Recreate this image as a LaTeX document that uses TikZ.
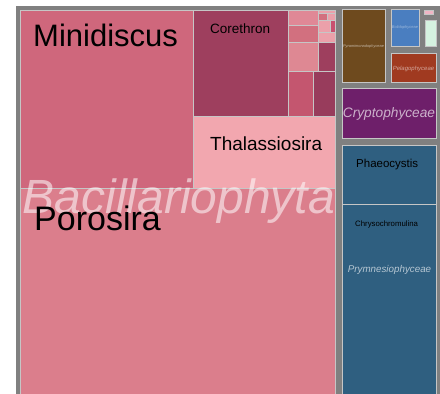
\documentclass[tikz,border=0pt]{standalone}
\usepackage{fontspec}
\setmainfont{Liberation Sans}
\definecolor{frame}{HTML}{808080}
\definecolor{leafline}{HTML}{C6C6C6}
\definecolor{minid}{HTML}{CF677C}
\definecolor{poros}{HTML}{DB7E8C}
\definecolor{coreth}{HTML}{9E3F5E}
\definecolor{thalas}{HTML}{F2A7AF}
\definecolor{pinkA}{HTML}{E08896}
\definecolor{pinkB}{HTML}{D2707F}
\definecolor{pinkC}{HTML}{DE8893}
\definecolor{pinkD}{HTML}{C4566F}
\definecolor{pinkE}{HTML}{983C5C}
\definecolor{pinkF}{HTML}{EBA0AA}
\definecolor{pinkG}{HTML}{C85070}
\definecolor{pyram}{HTML}{6E4A1E}
\definecolor{bolid}{HTML}{4A7EC0}
\definecolor{mint}{HTML}{D5F2E0}
\definecolor{rose}{HTML}{F0B5C5}
\definecolor{pelag}{HTML}{A03A20}
\definecolor{crypt}{HTML}{6E1F6A}
\definecolor{prymn}{HTML}{2F5F80}

\begin{document}
\begin{tikzpicture}[x=1pt,y=-1pt,
  leaf/.style={draw=leafline,line width=0.8pt},
  lab/.style={anchor=base west,inner sep=0pt},
  grp/.style={anchor=base,inner sep=0pt,font=\itshape}]
  \useasboundingbox (0,0) rectangle (440,394);
  \fill[frame] (16,6) rectangle (440,394);
  \filldraw[leaf,fill=minid] (20,10) rectangle (193,188);
  \filldraw[leaf,fill=poros] (20,188) rectangle (335,394);
  \filldraw[leaf,fill=coreth] (193,10) rectangle (288,116);
  \filldraw[leaf,fill=thalas] (193,116) rectangle (335,188);
  \filldraw[leaf,fill=pinkA] (288,10) rectangle (318,25);
  \filldraw[leaf,fill=pinkB] (288,25) rectangle (318,42);
  \filldraw[leaf,fill=pinkC] (288,42) rectangle (318,71);
  \filldraw[leaf,fill=coreth] (318,42) rectangle (335,71);
  \filldraw[leaf,fill=pinkD] (288,71) rectangle (313,116);
  \filldraw[leaf,fill=pinkE] (313,71) rectangle (335,116);
  \filldraw[leaf,fill=pinkF] (318,10) rectangle (335,13);
  \filldraw[leaf,fill=pinkB] (318,13) rectangle (327,20);
  \filldraw[leaf,fill=pinkF] (327,13) rectangle (335,20);
  \filldraw[leaf,fill=pinkF] (318,20) rectangle (330,32);
  \filldraw[leaf,fill=pinkG] (330,20) rectangle (335,32);
  \filldraw[leaf,fill=pinkF] (318,32) rectangle (335,42);
  \filldraw[leaf,fill=pyram] (342,9) rectangle (385,82);
  \filldraw[leaf,fill=bolid] (391,9) rectangle (419,46);
  \filldraw[leaf,fill=rose] (424,10) rectangle (433,14);
  \filldraw[leaf,fill=mint] (425,20) rectangle (436,46);
  \filldraw[leaf,fill=pelag] (391,53) rectangle (436,82);
  \filldraw[leaf,fill=crypt] (342,88) rectangle (436,138);
  \filldraw[leaf,fill=prymn] (342,145) rectangle (436,204);
  \filldraw[leaf,fill=prymn] (342,204) rectangle (436,394);
  \node[grp,text=white,text opacity=0.55,font=\itshape\fontsize{48}{48}\selectfont] (bacill) at (179,213) {Bacillariophyta};
  \node[lab,font=\fontsize{31}{31}\selectfont] (minidiscus) at (33,46) {Minidiscus};
  \node[lab,font=\fontsize{34}{34}\selectfont] (porosira) at (34,230) {Porosira};
  \node[lab,font=\fontsize{13.5}{13.5}\selectfont] (corethron) at (210,33) {Corethron};
  \node[lab,font=\fontsize{19}{19}\selectfont] (thalassiosira) at (210,150) {Thalassiosira};
  \node[lab,font=\fontsize{11.5}{11.5}\selectfont] (phaeocystis) at (356,167) {Phaeocystis};
  \node[lab,font=\fontsize{7.8}{7.8}\selectfont] (chrysochromulina) at (355,226) {Chrysochromulina};
  \node[grp,text=pyram!40!white,font=\itshape\fontsize{3.9}{3.9}\selectfont] (pyramimonado) at (363.5,47) {Pyramimonadophyceae};
  \node[grp,text=bolid!55!white,font=\itshape\fontsize{4}{4}\selectfont] (bolido) at (405,28) {Bolidophyceae};
  \node[grp,text=pelag!45!white,font=\itshape\fontsize{6}{6}\selectfont] (pelago) at (413.5,70) {Pelagophyceae};
  \node[grp,text=crypt!35!white,font=\itshape\fontsize{13.7}{13.7}\selectfont] (crypto) at (389,117) {Cryptophyceae};
  \node[grp,text=prymn!35!white,font=\itshape\fontsize{9.8}{9.8}\selectfont] (prymnesio) at (389.5,272) {Prymnesiophyceae};
\end{tikzpicture}
\end{document}
